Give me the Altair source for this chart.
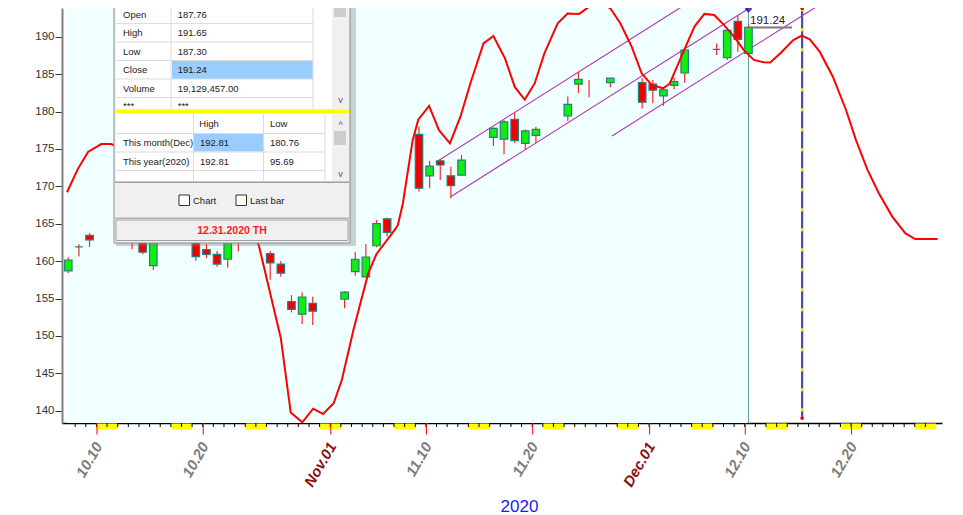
import altair as alt
import pandas as pd

# ---------------- candle data ----------------
dates = ["2020-10-07", "2020-10-08", "2020-10-09", "2020-10-12", "2020-10-13", "2020-10-14", "2020-10-15", "2020-10-16",
         "2020-10-19", "2020-10-20", "2020-10-21", "2020-10-22", "2020-10-23",
         "2020-10-26", "2020-10-27", "2020-10-28", "2020-10-29", "2020-10-30",
         "2020-11-02", "2020-11-03", "2020-11-04", "2020-11-05", "2020-11-06",
         "2020-11-09", "2020-11-10", "2020-11-11", "2020-11-12", "2020-11-13",
         "2020-11-16", "2020-11-17", "2020-11-18", "2020-11-19", "2020-11-20",
         "2020-11-23", "2020-11-24", "2020-11-25", "2020-11-27",
         "2020-11-30", "2020-12-01", "2020-12-02", "2020-12-03", "2020-12-04",
         "2020-12-07", "2020-12-08", "2020-12-09", "2020-12-10"]
opens = [158.7, 161.9, 163.45, 163.4, 165.0, 164.5, 159.4, 164.5,
         163.0, 161.55, 160.9, 160.25, 163.4,
         161.0, 159.6, 154.6, 152.9, 154.35,
         154.9, 158.6, 157.9, 162.05, 165.65,
         176.95, 171.4, 173.4, 171.4, 171.5,
         176.55, 176.3, 178.95, 175.75, 176.8,
         179.4, 183.65, None, 183.85,
         183.85, 183.65, 182.1, 183.5, 185.15,
         188.3, 187.2, 192.05, 187.76]
highs = [160.5, 162.25, 163.75, 164.2, 165.5, 165.0, 164.0, 166.0,
         163.5, 162.3, 161.35, 162.8, 164.0,
         161.35, 160.0, 155.45, 155.8, 155.25,
         156.0, 161.25, 162.3, 165.5, 165.8,
         178.0, 173.4, 173.6, 172.6, 174.2,
         177.9, 178.85, 179.85, 177.6, 177.95,
         182.0, 185.3, 184.2, 184.45,
         184.45, 184.2, 183.25, 184.5, 188.2,
         189.1, 190.85, 192.81, 191.65]
lows = [158.4, 160.6, 161.9, 162.9, 161.6, 160.9, 158.8, 163.5,
        160.05, 160.4, 159.25, 159.1, 161.3,
        157.5, 157.9, 153.15, 151.6, 151.45,
        153.7, 158.05, 157.9, 161.85, 163.3,
        169.3, 169.75, 170.85, 168.4, 171.4,
        175.4, 174.3, 175.8, 174.85, 175.8,
        178.75, 182.45, 181.9, 183.25,
        180.4, 181.1, 180.76, 182.95, 183.85,
        187.55, 186.9, 188.0, 187.30]
closes = [160.15, 161.9, 162.85, 163.6, 164.2, 161.2, 163.5, 165.5,
          160.6, 160.9, 159.6, 162.6, 162.8,
          159.75, 158.4, 153.55, 155.2, 153.3,
          155.85, 160.25, 160.55, 165.0, 163.85,
          169.75, 172.7, 172.85, 170.1, 173.5,
          177.75, 178.6, 176.1, 177.4, 177.6,
          180.95, 184.3, None, 184.45,
          181.25, 182.85, 182.9, 184.0, 188.2,
          188.3, 190.85, 189.65, 191.24]

# ---------------- cycle curve (days since 2020-10-07) ----------------
curve_day = [-0.12, 0.93, 1.86, 3.1, 4.04, 4.8, 5.7, 7.0, 9.0, 11.0, 13.0, 15.0, 17.0, 17.92,
             20.0, 20.93, 22.02, 23.04, 23.97, 24.97, 25.74, 26.83, 28.22, 29.0, 30.7, 31.01,
             31.48, 32.41, 32.93, 33.95, 34.88, 35.91, 36.9, 37.83, 39.07, 40.0, 41.09, 42.02,
             42.95, 43.88, 44.81, 46.05, 46.98, 48.07, 49.0, 49.93, 51.0, 51.94, 53.02, 53.95,
             54.88, 55.97, 56.6, 57.67, 58.92, 59.85, 60.78, 61.71, 62.64, 63.57, 64.5, 65.43,
             66.05, 66.98, 68.22, 69.0, 69.77, 70.7, 71.94, 73.18, 74.11, 75.2, 76.28, 77.53,
             78.77, 79.7, 81.8]
curve_val = [169.2, 172.4, 174.6, 175.65, 175.65, 175.15, 174.2, 172.8, 171.0, 169.5, 168.0, 166.5, 164.5, 162.15,
             149.7, 139.75, 138.45, 140.27, 139.56, 141.0, 144.1, 150.8, 158.35, 160.95, 164.15, 164.8,
             167.7, 176.2, 178.9, 180.75, 177.5, 175.75, 179.3, 183.75, 189.1, 190.1, 187.1, 183.25,
             181.6, 183.75, 187.8, 191.8, 193.1, 193.05, 194.0, 194.6, 193.8, 191.8, 188.65, 185.1,
             183.55, 183.1, 183.75, 187.3, 191.35, 193.05, 192.9, 191.55, 190.0, 188.2, 186.9, 186.6,
             186.55, 187.75, 189.55, 190.15, 189.65, 188.0, 184.65, 180.2, 176.2, 172.2, 169.05, 165.95,
             163.7, 162.95, 162.95]

# ---------------- channel lines ----------------
chan_id = ["A", "A", "B", "B", "C", "C"]
chan_day = [34.58, 58.5, 35.91, 66.0, 51.16, 71.0]
chan_val = [173.21, 194.7, 168.53, 195.55, 176.73, 194.55]

# ---------------- misc values ----------------
last_close = 191.24
forecast_day = 69.05
label_days = [3, 13, 25, 34, 44, 55, 64, 74]
label_text = ["10.10", "10.20", "Nov.01", "11.10", "11.20", "Dec.01", "12.10", "12.20"]
saturdays = [3, 10, 17, 24, 31, 38, 45, 52, 59, 66, 73, 80]

info_top_labels = ["Open", "High", "Low", "Close", "Volume", "***"]
info_top_values = ["187.76", "191.65", "187.30", "191.24", "19,129,457.00", "***"]
info_bottom_rows = ["This month(Dec)", "This year(2020)"]
info_bottom_high = ["192.81", "192.81"]
info_bottom_low = ["180.76", "95.69"]
info_date = "12.31.2020 TH"

# ---------------- frames ----------------
base = pd.Timestamp("2020-10-07")
cdf = pd.DataFrame({"date": pd.to_datetime(dates), "open": opens, "high": highs, "low": lows, "close": closes})
cdf["day"] = (cdf["date"] - base).dt.days
cdf["fill"] = ["#10ee10" if (o is not None and c is not None and c >= o) else "#f20000" for o, c in zip(opens, closes)]
cdf = cdf.drop(columns=["date"])

XMIN, XMAX = -0.121, 81.74
YMIN, YMAX = 138.356, 193.837
XS = alt.Scale(domain=[XMIN, XMAX], nice=False, zero=False)
YS = alt.Scale(domain=[YMIN, YMAX], nice=False, zero=False)

label_expr = ("[" + ",".join("'%s'" % t for t in label_text) + "][indexof(["
              + ",".join(str(d) for d in label_days) + "], datum.value)]")

XAX = alt.Axis(values=label_days, labelExpr=label_expr, labelAngle=300, labelAlign="right",
               labelBaseline="middle", labelFont="Liberation Sans", labelFontSize=15,
               labelFontStyle="italic", labelFontWeight="bold",
               labelColor={"condition": {"test": "datum.value == 25 || datum.value == 55", "value": "#8b1010"},
                           "value": "#7c7c7c"},
               labelPadding=20, labelOffset=-2, labelOverlap=False, labelFlush=False, ticks=False,
               grid=False, domainColor="#000000", domainWidth=1.5,
               title="2020", titleColor="#1a1aff", titleFont="Liberation Sans", titleFontSize=17,
               titleFontWeight="normal", titleX=457, titleY=88, titleAlign="center",
               titleBaseline="alphabetic")
YAX = alt.Axis(values=list(range(140, 191, 5)), labelFont="Liberation Sans", labelFontSize=11.5,
               labelColor="#333333", tickSize=7, tickColor="#333333", tickWidth=1,
               domainColor="#808080", domainWidth=2, labelPadding=1, grid=False, title="")


def X(f):
    return alt.X(f, type="quantitative", scale=XS, axis=XAX)


def Y(f):
    return alt.Y(f, type="quantitative", scale=YS, axis=YAX)


bg = alt.Chart(pd.DataFrame({"x0": [XMIN], "x1": [64], "y0": [YMIN], "y1": [YMAX]})).mark_rect(
    color="#f0ffff").encode(x=X("x0"), x2="x1", y=Y("y0"), y2="y1")

lastbar = alt.Chart(pd.DataFrame({"d": [64], "t": [193.57], "b": [YMIN]})).mark_rule(
    color="#5f9ea0", strokeWidth=1).encode(x=X("d"), y=Y("t"), y2="b")

fc_df = pd.DataFrame({"d": [forecast_day], "t": [193.8], "b": [139.02]})
fc_line = alt.Chart(fc_df).mark_rule(color="#4b4ba8", strokeWidth=2.2).encode(x=X("d"), y=Y("t"), y2="b")
fc_dash = alt.Chart(fc_df).mark_rule(color="#ffff00", strokeWidth=2, strokeDash=[3, 17]).encode(
    x=X("d"), y=Y("t"), y2="b")
fc_ends = alt.Chart(pd.DataFrame({"d": [forecast_day, forecast_day], "v": [193.8, 139.02]})).mark_point(
    filled=True, color="#d01010", size=14, opacity=1).encode(x=X("d"), y=Y("v"))

chan = alt.Chart(pd.DataFrame({"ch": chan_id, "d": chan_day, "v": chan_val})).mark_line(
    color="#b43cb4", strokeWidth=1.2, clip=True).encode(x=X("d"), y=Y("v"), detail="ch:N")

wicks = alt.Chart(cdf).mark_rule(color="#ff2626", strokeWidth=1.2, clip=True).encode(
    x=X("day"), y=Y("low"), y2="high")
bodies = alt.Chart(cdf).mark_bar(size=7.5, stroke="#237f7f", strokeWidth=1.2, clip=True).encode(
    x=X("day"), y=Y("open"), y2="close", fill=alt.Fill("fill:N", scale=None))

curve = alt.Chart(pd.DataFrame({"d": curve_day, "v": curve_val})).mark_line(
    color="#ff0000", strokeWidth=2, clip=True).encode(x=X("d"), y=Y("v"))

lp_line = alt.Chart(pd.DataFrame({"d0": [64], "d1": [68.1], "v": [last_close]})).mark_rule(
    color="#7a7a7a", strokeWidth=2).encode(x=X("d0"), x2="d1", y=Y("v"))
lp_text = alt.Chart(pd.DataFrame({"d": [64.15], "v": [last_close], "t": ["%.2f" % last_close]})).mark_text(
    align="left", baseline="bottom", dy=-1, font="Liberation Sans", fontSize=11.5, color="#222222").encode(
    x=X("d"), y=Y("v"), text="t:N")
dia = alt.Chart(pd.DataFrame({"d": [64], "v": [193.7]})).mark_point(
    shape="diamond", filled=True, color="#2a2ad0", size=55, opacity=1).encode(x=X("d"), y=Y("v"))
dia_r = alt.Chart(pd.DataFrame({"d": [64], "v": [193.7]})).mark_point(
    shape="triangle-right", filled=True, color="#e02020", size=14, opacity=1, xOffset=2).encode(
    x=X("d"), y=Y("v"))

wk = alt.Chart(pd.DataFrame({"s": [s - 0.35 for s in saturdays], "e": [min(s + 1.65, XMAX) for s in saturdays]})
               ).mark_rect(color="#ffff00").encode(x=X("s"), x2="e", y=alt.value(415.5), y2=alt.value(421.5))
tick_pos = [d - 0.35 for d in range(0, 82) if XMIN <= d - 0.35 <= XMAX]
ticks = alt.Chart(pd.DataFrame({"t": tick_pos})).mark_rule(color="#000000", strokeWidth=1).encode(
    x=X("t"), y=alt.value(415), y2=alt.value(419))
rticks = alt.Chart(pd.DataFrame({"t": [d - 0.3 for d in label_days]})).mark_rule(
    color="#ff0000", strokeWidth=1).encode(x=X("t"), y=alt.value(415), y2=alt.value(426.5))

# ---------------- info panel (page pixel layout) ----------------
OX, OY = 62, 8
rects = []


def R(x0, y0, x1, y1, fill, stroke="transparent", sw=0, op=1.0):
    rects.append(dict(x0=x0 - OX, x1=x1 - OX, y0=y0 - OY, y1=y1 - OY, fill=fill, stroke=stroke, sw=sw, op=op))


R(116, 2, 356, 246, "#7a7a7a", op=0.35)
R(114, 0, 350, 243, "#f0f0f0", "#8c8c8c", 1)
R(116, 0, 332, 108.5, "#ffffff")
R(172, 61, 313, 79, "#99ccff")
for yy in [23.5, 42, 60.5, 79, 97.5]:
    R(116, yy - 0.5, 314, yy + 0.5, "#dcdcdc")
R(170.5, 0, 171.5, 108.5, "#dcdcdc")
R(312.5, 0, 313.5, 108.5, "#dcdcdc")
R(333, 0, 347, 108.5, "#f0f0f0")
R(334, 4, 346, 17, "#cdcdcd")
R(115, 109.5, 349, 113, "#ffff00")
R(116, 114, 332, 181, "#ffffff")
R(194, 134, 263, 151.5, "#99ccff")
for yy in [133.5, 152, 170.5]:
    R(116, yy - 0.5, 325, yy + 0.5, "#dcdcdc")
for xx in [193.5, 263.5, 325]:
    R(xx - 0.5, 114, xx + 0.5, 181, "#dcdcdc")
R(333, 114, 347, 181, "#f0f0f0")
R(334, 131, 346, 145, "#cdcdcd")
R(115, 181.5, 349, 183, "#a0a0a0")
R(179, 195, 189.5, 205.5, "#ffffff", "#333333", 1)
R(236, 195, 246.5, 205.5, "#ffffff", "#333333", 1)
R(115, 217.5, 349, 219, "#b4b4b4")
R(116, 220, 348, 240.5, "#f0f0f0", "#a0a0a0", 1)
rect_df = pd.DataFrame(rects)

texts = []


def T(x, y, t):
    texts.append(dict(x=x - OX, y=y - OY, t=t))


row_y = [14.5, 33, 51.5, 70.3, 89, 106]
for yy, lab, val in zip(row_y, info_top_labels, info_top_values):
    T(123, yy, lab)
    T(177.7, yy, val)
T(199.3, 124.3, "High")
T(270, 124.3, "Low")
for yy, lab, hi, lo in zip([143, 161.7], info_bottom_rows, info_bottom_high, info_bottom_low):
    T(123, yy, lab)
    T(200, yy, hi)
    T(270, yy, lo)
T(193, 200.5, "Chart")
T(250, 200.5, "Last bar")
text_df = pd.DataFrame(texts)

arrow_df = pd.DataFrame({"x": [340.5 - OX, 340.5 - OX, 340.5 - OX], "y": [100 - OY, 125 - OY, 174 - OY],
                         "t": ["v", "^", "v"]})
date_df = pd.DataFrame({"x": [232 - OX], "y": [231 - OY], "t": [info_date]})

PX = alt.X("x0:Q", scale=None, axis=None)
PY = alt.Y("y0:Q", scale=None, axis=None)
panel_r = alt.Chart(rect_df).mark_rect().encode(
    x=PX, x2="x1:Q", y=PY, y2="y1:Q",
    fill=alt.Fill("fill:N", scale=None), stroke=alt.Stroke("stroke:N", scale=None),
    strokeWidth=alt.StrokeWidth("sw:Q", scale=None), opacity=alt.Opacity("op:Q", scale=None))
panel_t = alt.Chart(text_df).mark_text(align="left", baseline="middle", font="Liberation Sans", fontSize=9.5,
                                       color="#1a1a1a").encode(
    x=alt.X("x:Q", scale=None, axis=None), y=alt.Y("y:Q", scale=None, axis=None), text="t:N")
panel_a = alt.Chart(arrow_df).mark_text(align="center", baseline="middle", font="Liberation Sans", fontSize=9,
                                        color="#555555").encode(
    x=alt.X("x:Q", scale=None, axis=None), y=alt.Y("y:Q", scale=None, axis=None), text="t:N")
panel_d = alt.Chart(date_df).mark_text(align="center", baseline="middle", font="Liberation Sans", fontSize=10.5,
                                       fontWeight="bold", color="#ff1a1a").encode(
    x=alt.X("x:Q", scale=None, axis=None), y=alt.Y("y:Q", scale=None, axis=None), text="t:N")

chart = alt.layer(
    bg, lastbar, fc_line, fc_dash, fc_ends, chan, wicks, bodies, curve,
    lp_line, lp_text, dia, dia_r, wk, ticks, rticks,
    panel_r, panel_t, panel_a, panel_d
).properties(
    width=880, height=415,
    padding={"left": 54, "top": 0, "right": 13, "bottom": 92},
    autosize=alt.AutoSizeParams(type="none"),
    background="#ffffff"
).configure_view(stroke="transparent")

chart.save("out.html", embed_options={"renderer": "svg", "actions": False})
